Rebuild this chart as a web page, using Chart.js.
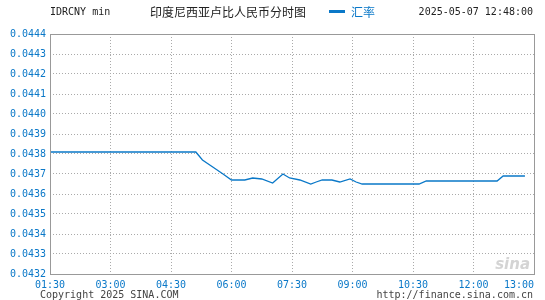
<!DOCTYPE html>
<html>
<head>
<meta charset="utf-8">
<script src="https://cdn.jsdelivr.net/npm/chart.js@4/dist/chart.umd.min.js"></script>
<style>
  html, body { margin: 0; padding: 0; background: #fff; }
  #wrap { width: 545px; height: 300px; position: relative; }
</style>
</head>
<body>
<div id="wrap"><canvas id="c" width="545" height="300"></canvas></div>
<script>
// x tick labels (evenly spaced on the axis, one per slot)
const timeLabels = ['01:30', '03:00', '04:30', '06:00', '07:30', '09:00', '10:30', '12:00', '13:00'];
// sample positions, in label slots from 01:30
const slots = [0, 2.41, 2.52, 2.69, 2.86, 3.0, 3.22, 3.35, 3.5, 3.68, 3.85, 3.96, 4.13, 4.31, 4.4,
  4.5, 4.66, 4.79, 4.96, 5.06, 5.16, 6.1, 6.22, 7.39, 7.49, 7.85];
const rates = [0.04381, 0.04381, 0.04377, 0.043735, 0.04370, 0.04367, 0.04367, 0.04368, 0.043675, 0.043655,
  0.04370, 0.04368, 0.04367, 0.04365, 0.04366, 0.04367, 0.04367, 0.04366, 0.043675, 0.04366,
  0.04365, 0.04365, 0.043665, 0.043665, 0.04369, 0.04369];
const yMin = 0.0432, yMax = 0.0444, yStep = 0.0001;

const blue = '#0a78c8';
const mono = '"DejaVu Sans Mono", monospace';

const frame = {
  id: 'frame',
  afterDraw(chart) {
    const ctx = chart.ctx;
    const a = chart.chartArea;
    const xs = chart.scales.x;
    ctx.save();
    // box
    ctx.strokeStyle = '#999';
    ctx.lineWidth = 1;
    ctx.strokeRect(Math.round(a.left) + 0.5, Math.round(a.top) + 0.5,
      Math.round(a.right - a.left), Math.round(a.bottom - a.top));

    // x labels: first centered, last flush right
    ctx.font = '10px ' + mono;
    ctx.fillStyle = blue;
    ctx.textBaseline = 'middle';
    timeLabels.forEach((t, i) => {
      const px = xs.getPixelForValue(i);
      ctx.textAlign = i === timeLabels.length - 1 ? 'right' : 'center';
      ctx.fillText(t, px, 285);
    });

    // header
    ctx.fillStyle = '#222';
    ctx.textAlign = 'left';
    ctx.fillText('IDRCNY min', 50, 12);
    ctx.textAlign = 'right';
    ctx.fillText('2025-05-07 12:48:00', 533, 12);
    ctx.font = '12px "Noto Sans CJK SC", sans-serif';
    ctx.textAlign = 'left';
    ctx.fillText('印度尼西亚卢比人民币分时图', 150, 12);
    ctx.fillStyle = blue;
    ctx.fillRect(329, 10, 16, 3);
    ctx.fillText('汇率', 351, 12);

    // footer
    ctx.font = '10px ' + mono;
    ctx.fillStyle = '#444';
    ctx.textAlign = 'left';
    ctx.fillText('Copyright 2025 SINA.COM', 40, 295);
    ctx.textAlign = 'right';
    ctx.fillText('http://finance.sina.com.cn', 533, 295);

    // watermark
    ctx.font = 'italic bold 15px "DejaVu Sans", sans-serif';
    ctx.fillStyle = '#d4d4d4';
    ctx.fillText('sina', 530, 265);
    ctx.restore();
  }
};

new Chart(document.getElementById('c'), {
  type: 'line',
  data: {
    datasets: [{
      data: slots.map((s, i) => ({ x: s, y: rates[i] })),
      borderColor: blue,
      borderWidth: 1.3,
      pointRadius: 0,
      tension: 0,
      fill: false
    }]
  },
  options: {
    responsive: false,
    animation: false,
    events: [],
    layout: { autoPadding: false, padding: { top: 34, right: 11, left: 0, bottom: 0 } },
    plugins: { legend: { display: false }, tooltip: { enabled: false } },
    scales: {
      x: {
        type: 'linear',
        min: 0,
        max: timeLabels.length - 1,
        afterBuildTicks: s => { s.ticks = timeLabels.map((t, i) => ({ value: i })); },
        afterFit: s => { s.height = 26; },
        ticks: { display: false },
        border: { display: false, dash: [1, 2] },
        grid: {
          drawTicks: false,
          color: ctx => (ctx.index === 0 || ctx.index === timeLabels.length - 1) ? 'rgba(0,0,0,0)' : '#aaa',
          lineWidth: 1
        },
      },
      y: {
        min: yMin,
        max: yMax,
        afterBuildTicks: s => {
          const t = [];
          for (let i = 0; i <= Math.round((yMax - yMin) / yStep); i++) t.push({ value: yMin + i * yStep });
          s.ticks = t;
        },
        afterFit: s => { s.width = 50; },
        border: { display: false, dash: [1, 2] },
        grid: {
          drawTicks: false,
          color: ctx => (ctx.index === 0 || ctx.index === 12) ? 'rgba(0,0,0,0)' : '#aaa',
          lineWidth: 1
        },
        ticks: {
          padding: 4,
          color: blue,
          font: { family: mono, size: 10 },
          callback: v => v.toFixed(4)
        }
      }
    }
  },
  plugins: [frame]
});
</script>
</body>
</html>
